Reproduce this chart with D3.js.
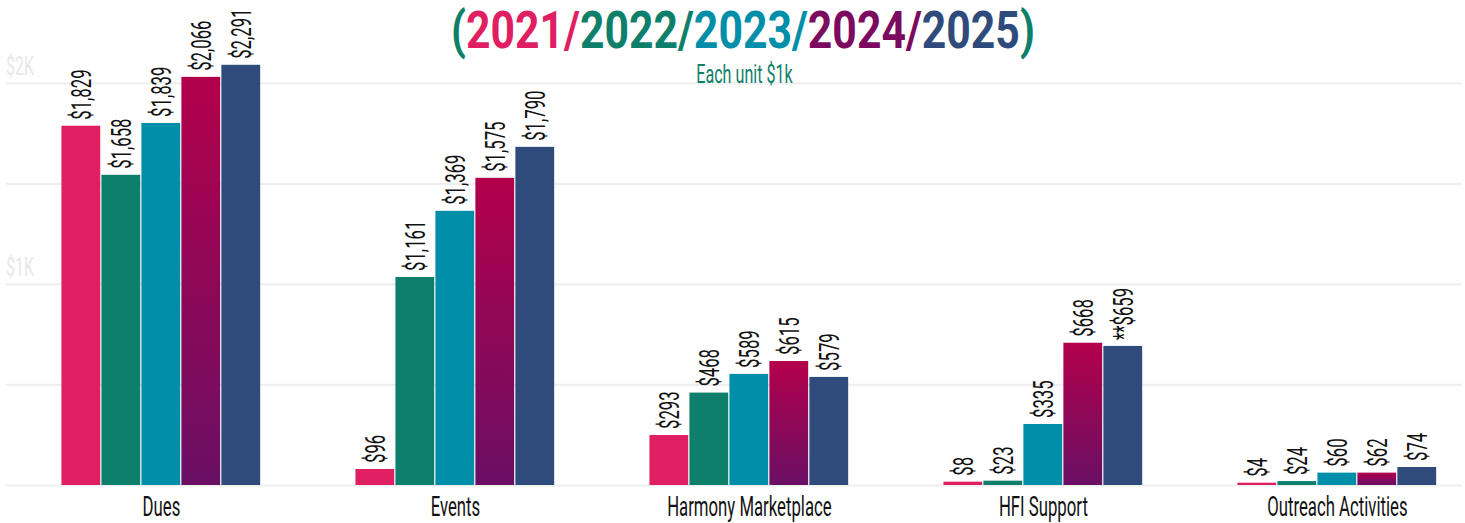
<!DOCTYPE html>
<html>
<head>
<meta charset="utf-8">
<script src="https://cdn.jsdelivr.net/npm/d3@7"></script>
<style>
  html, body { margin: 0; padding: 0; background: #fff; }
  svg { display: block; font-family: Roboto, "Liberation Sans", sans-serif; }
</style>
</head>
<body>
<svg id="chart" width="1465" height="523"></svg>
<script>
// ---- data ----
const categories = ["Dues", "Events", "Harmony Marketplace", "HFI Support", "Outreach Activities"];
const years = ["2021", "2022", "2023", "2024", "2025"];
// bar heights as read against the axis (units of $1k = 1000)
const values2021 = [1789, 82, 251, 19, 14];
const values2022 = [1545, 1037, 462, 24, 22];
const values2023 = [1803, 1366, 555, 306, 64];
const values2024 = [2032, 1530, 619, 710, 64];
const values2025 = [2092, 1684, 540, 694, 92];
// printed value labels
const labels2021 = ["$1,829", "$96", "$293", "$8", "$4"];
const labels2022 = ["$1,658", "$1,161", "$468", "$23", "$24"];
const labels2023 = ["$1,839", "$1,369", "$589", "$335", "$60"];
const labels2024 = ["$2,066", "$1,575", "$615", "$668", "$62"];
const labels2025 = ["$2,291", "$1,790", "$579", "**$659", "$74"];
const gridTicks = [0, 500, 1000, 1500, 2000];
const tickLabels = [{v: 1000, t: "$1K"}, {v: 2000, t: "$2K"}];
const titleParts = [
  {t: "(", c: "#0e7f6a"}, {t: "2021/", c: "#e01f63"}, {t: "2022/", c: "#0e7f6a"},
  {t: "2023/", c: "#008ea8"}, {t: "2024/", c: "#7c0b5f"}, {t: "2025", c: "#2f4b7b"}, {t: ")", c: "#0e7f6a"}
];

const seriesValues = [values2021, values2022, values2023, values2024, values2025];
const seriesLabels = [labels2021, labels2022, labels2023, labels2024, labels2025];
const colors = ["#e01f63", "#0e7f6a", "#008ea8", "url(#grad2024)", "#2f4b7b"];

const svg = d3.select("#chart");
const defs = svg.append("defs");
const g = defs.append("linearGradient").attr("id", "grad2024")
  .attr("x1", 0).attr("y1", 0).attr("x2", 0).attr("y2", 1);
g.append("stop").attr("offset", "0%").attr("stop-color", "#b3004b");
g.append("stop").attr("offset", "100%").attr("stop-color", "#6a0f64");

// scales
const x0 = d3.scaleBand().domain(categories).range([14.4, 1484.4]).paddingInner(0.32).paddingOuter(0.16);
const x1 = d3.scaleBand().domain(years).range([0, x0.bandwidth()]).padding(0);
const y = d3.scaleLinear().domain([0, 2000]).range([485.5, 83.3]);

// gridlines
svg.append("g").selectAll("line").data(gridTicks).join("line")
  .attr("x1", 6).attr("x2", 1462)
  .attr("y1", d => y(d)).attr("y2", d => y(d))
  .attr("stroke", "#efefef").attr("stroke-width", 2.2);

// y tick labels
svg.append("g").selectAll("text").data(tickLabels).join("text")
  .attr("transform", d => `translate(6,${y(d.v) - 8}) scale(0.64,1)`)
  .attr("font-size", 25).attr("fill", "#e8e8e8")
  .text(d => d.t);

// bars
const rows = [];
categories.forEach((c, ci) => {
  years.forEach((yr, yi) => {
    rows.push({cat: c, year: yr, yi, v: seriesValues[yi][ci], label: seriesLabels[yi][ci]});
  });
});

const bars = svg.append("g");
bars.selectAll("rect").data(rows).join("rect")
  .attr("x", d => x0(d.cat) + x1(d.year))
  .attr("y", d => y(d.v))
  .attr("width", x1.bandwidth() - 1.2)
  .attr("height", d => y(0) - y(d.v) - 0.5)
  .attr("fill", d => colors[d.yi]);

// value labels
svg.append("g").selectAll("text").data(rows).join("text")
  .attr("transform", d => {
    const cx = x0(d.cat) + x1(d.year) + x1.bandwidth() / 2;
    return `translate(${cx + 10},${y(d.v) - 6}) rotate(-90) scale(0.62,1)`;
  })
  .attr("font-size", 27).attr("fill", "#111")
  .attr("text-anchor", "start")
  .text(d => d.label);

// category labels
svg.append("g").selectAll("text").data(categories).join("text")
  .attr("transform", d => `translate(${x0(d) + x0.bandwidth() / 2},516) scale(0.62,1)`)
  .attr("text-anchor", "middle").attr("font-size", 27).attr("fill", "#111")
  .text(d => d);

// title: natural width measured, then condensed to fit the reference span
const title = svg.append("text")
  .attr("x", 0).attr("y", 0)
  .attr("font-size", 51).attr("font-weight", 700);
title.selectAll("tspan").data(titleParts).join("tspan")
  .attr("fill", d => d.c).text(d => d.t);
const natural = title.node().getComputedTextLength();
title.attr("transform", `translate(451,48) scale(${584 / natural},1)`);

// subtitle
svg.append("text")
  .attr("transform", "translate(744.5,83) scale(0.62,1)")
  .attr("text-anchor", "middle").attr("font-size", 26).attr("fill", "#0e7f6a")
  .text("Each unit $1k");
</script>
</body>
</html>
